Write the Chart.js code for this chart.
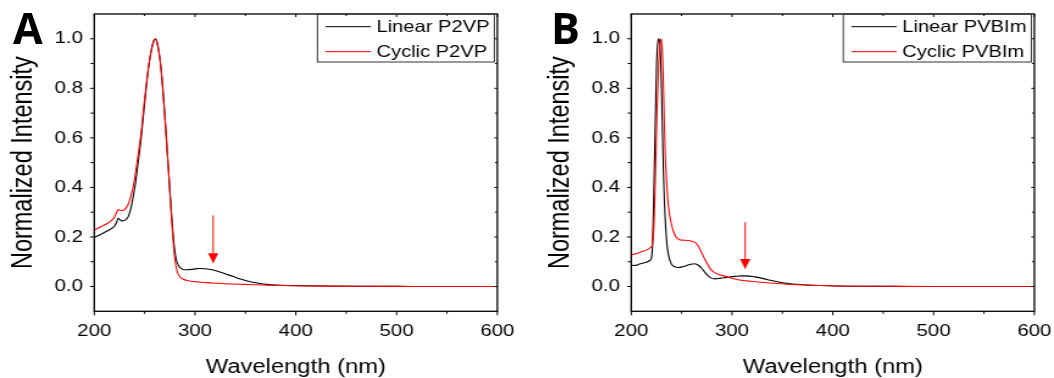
<!DOCTYPE html>
<html>
<head>
<meta charset="utf-8">
<script src="https://cdn.jsdelivr.net/npm/chart.js@4/dist/chart.umd.min.js"></script>
<style>
  html, body { margin: 0; padding: 0; background: #fff; }
  #wrap { position: relative; width: 1054px; height: 378px; overflow: hidden; }
  .holder { position: absolute; top: 0; width: 424px; height: 378px; transform: scaleX(1.2193); transform-origin: 0 0; }
  .tag { position: absolute; top: 0; font: bold 43px "Open Sans", sans-serif; line-height: 56px; color: #000; }
</style>
</head>
<body>
<div id="wrap">
  <div class="holder" style="left:0px"><canvas id="chartA" width="424" height="378"></canvas></div>
  <div class="holder" style="left:537px"><canvas id="chartB" width="424" height="378"></canvas></div>
  <div class="tag" style="left:13px">A</div>
  <div class="tag" style="left:551px">B</div>
</div>
<script>
// ---- data ----
var wlP2VP = [200, 205, 210, 215, 220, 222, 223.8, 225.5, 227.2, 230, 233.5, 236, 238.5, 241, 243.5, 246.5, 249, 251.5, 254, 257, 259, 260.5, 262, 264, 266, 268, 270, 272, 274, 276, 278, 280, 282, 284, 286, 289, 293, 298, 304, 310, 317, 324, 331, 338, 345, 352, 360, 368, 376, 385, 395, 410, 430, 460, 500, 550, 600];
var linearP2VP = [0.198, 0.208, 0.218, 0.229, 0.243, 0.258, 0.275, 0.27, 0.265, 0.267, 0.28, 0.31, 0.36, 0.42, 0.5, 0.6, 0.7, 0.8, 0.89, 0.96, 0.99, 1.0, 0.99, 0.95, 0.89, 0.8, 0.69, 0.57, 0.45, 0.33, 0.22, 0.14, 0.1, 0.082, 0.073, 0.068, 0.068, 0.07, 0.073, 0.072, 0.068, 0.06, 0.05, 0.04, 0.03, 0.022, 0.015, 0.01, 0.007, 0.005, 0.004, 0.003, 0.002, 0.001, 0.0005, 0, 0];
var cyclicP2VP = [0.228, 0.238, 0.248, 0.26, 0.28, 0.298, 0.311, 0.308, 0.306, 0.31, 0.33, 0.36, 0.4, 0.46, 0.53, 0.62, 0.72, 0.81, 0.89, 0.96, 0.99, 1.0, 0.99, 0.95, 0.89, 0.8, 0.69, 0.57, 0.45, 0.32, 0.2, 0.11, 0.065, 0.045, 0.035, 0.028, 0.023, 0.02, 0.018, 0.016, 0.014, 0.013, 0.011, 0.01, 0.009, 0.008, 0.007, 0.006, 0.005, 0.004, 0.003, 0.002, 0.0015, 0.001, 0.0005, 0, 0];

var wlLinearPVBIm = [200, 203, 206, 209, 212, 215, 218, 220, 221, 222, 223, 224, 225, 226, 227, 228, 229, 230, 231, 232, 233, 234, 235, 236, 238, 240, 243, 247, 251, 255, 259, 263, 267, 271, 275, 279, 283, 288, 295, 303, 310, 317, 324, 331, 338, 345, 352, 360, 370, 380, 395, 420, 460, 500, 600];
var linearPVBIm = [0.086, 0.085, 0.087, 0.092, 0.095, 0.098, 0.104, 0.115, 0.16, 0.3, 0.5, 0.7, 0.88, 0.97, 1.0, 0.99, 0.93, 0.8, 0.62, 0.45, 0.33, 0.25, 0.19, 0.15, 0.11, 0.09, 0.08, 0.077, 0.08, 0.085, 0.09, 0.092, 0.085, 0.068, 0.048, 0.035, 0.031, 0.033, 0.037, 0.041, 0.043, 0.042, 0.038, 0.032, 0.025, 0.019, 0.014, 0.01, 0.007, 0.005, 0.003, 0.001, 0.0005, 0, 0];

var wlCyclicPVBIm = [200, 205, 210, 215, 219, 221, 222.5, 224, 225.5, 227, 228.5, 229.5, 230.5, 231.5, 232.5, 233.5, 235, 236.5, 238, 240, 242.5, 245, 248, 252, 256, 260, 264, 267, 270, 273, 276, 279, 282, 286, 291, 297, 304, 311, 318, 326, 335, 345, 355, 365, 378, 390, 410, 450, 500, 600];
var cyclicPVBIm = [0.127, 0.133, 0.14, 0.147, 0.157, 0.17, 0.25, 0.45, 0.7, 0.88, 0.98, 1.0, 0.97, 0.88, 0.72, 0.56, 0.43, 0.34, 0.29, 0.25, 0.215, 0.197, 0.189, 0.187, 0.186, 0.183, 0.176, 0.16, 0.135, 0.11, 0.088, 0.068, 0.058, 0.05, 0.044, 0.037, 0.029, 0.024, 0.021, 0.018, 0.015, 0.012, 0.009, 0.007, 0.005, 0.004, 0.002, 0.001, 0, 0];

var xMajor = [200, 300, 400, 500, 600];
var xMinor = [250, 350, 450, 550];
var yMajor = [0, 0.2, 0.4, 0.6, 0.8, 1.0];
var yMinor = [0.1, 0.3, 0.5, 0.7, 0.9];

// arrows: [wavelength, top, head start, tip]
var arrowA = [318, 0.287, 0.134, 0.093];
var arrowB = [313, 0.26, 0.111, 0.07];

function pts(xs, ys) {
    return xs.map(function(v, i) { return {x: v, y: ys[i]}; });
}

var decor = {
    id: 'decor',
    afterDatasetsDraw: function(chart, args, opts) {
        var ctx = chart.ctx, a = chart.chartArea;
        var xs = chart.scales.x, ys = chart.scales.y;
        ctx.save();

        // arrow
        var ar = opts.arrow;
        var ax = xs.getPixelForValue(ar[0]);
        ctx.strokeStyle = '#ff0000';
        ctx.fillStyle = '#ff0000';
        ctx.lineWidth = 1;
        ctx.beginPath();
        ctx.moveTo(ax, ys.getPixelForValue(ar[1]));
        ctx.lineTo(ax, ys.getPixelForValue(ar[2]));
        ctx.stroke();
        ctx.beginPath();
        ctx.moveTo(ax - 4.2, ys.getPixelForValue(ar[2]));
        ctx.lineTo(ax + 4.2, ys.getPixelForValue(ar[2]));
        ctx.lineTo(ax, ys.getPixelForValue(ar[3]));
        ctx.closePath();
        ctx.fill();

        // frame
        ctx.strokeStyle = '#000';
        ctx.lineWidth = 1.3;
        ctx.strokeRect(a.left, a.top, a.right - a.left, a.bottom - a.top);
        ctx.lineWidth = 1;
        function tick(px, py, dx, dy) {
            ctx.beginPath();
            ctx.moveTo(px, py);
            ctx.lineTo(px + dx, py + dy);
            ctx.stroke();
        }
        xMajor.forEach(function(v) {
            var p = xs.getPixelForValue(v);
            tick(p, a.bottom, 0, 4);
            tick(p, a.top, 0, 3);
        });
        xMinor.forEach(function(v) {
            var p = xs.getPixelForValue(v);
            tick(p, a.bottom, 0, 2.5);
            tick(p, a.top, 0, 2);
        });
        yMajor.forEach(function(v) {
            var p = ys.getPixelForValue(v);
            tick(a.left, p, -3.5, 0);
            tick(a.right, p, -2.5, 0);
        });
        yMinor.forEach(function(v) {
            var p = ys.getPixelForValue(v);
            tick(a.left, p, -3, 0);
            tick(a.right, p, -2, 0);
        });

        // legend box
        var names = opts.names, colors = ['#000000', '#ff0000'];
        ctx.font = '16.5px "Liberation Sans", Arial, sans-serif';
        var tw = Math.max(ctx.measureText(names[0]).width, ctx.measureText(names[1]).width);
        var bw = 48.4 + tw + 4;
        var bx = a.right - 2.5 - bw, by = a.top;
        ctx.strokeStyle = '#333';
        ctx.lineWidth = 1;
        ctx.strokeRect(bx, by, bw, 48);
        ctx.textBaseline = 'middle';
        ctx.textAlign = 'left';
        for (var i = 0; i < 2; i++) {
            var ly = by + 12.7 + i * 25;
            ctx.strokeStyle = colors[i];
            ctx.beginPath();
            ctx.moveTo(bx + 6.6, ly);
            ctx.lineTo(bx + 43.8, ly);
            ctx.stroke();
            ctx.fillStyle = '#000';
            ctx.fillText(names[i], bx + 48.4, ly + 1);
        }
        ctx.restore();
    }
};

function makeChart(id, sets, names, arrow) {
    var ctx = document.getElementById(id).getContext('2d');
    return new Chart(ctx, {
        type: 'line',
        data: {
            datasets: [{
                label: names[0],
                data: sets[0],
                borderColor: '#000000',
                borderWidth: 1.1,
                pointRadius: 0,
                cubicInterpolationMode: 'monotone',
                order: 1
            }, {
                label: names[1],
                data: sets[1],
                borderColor: '#ff0000',
                borderWidth: 1.1,
                pointRadius: 0,
                cubicInterpolationMode: 'monotone',
                order: 0
            }]
        },
        options: {
            responsive: false,
            devicePixelRatio: 1,
            animation: false,
            layout: { padding: { left: 0, right: 16.1, top: 14, bottom: 0 } },
            plugins: {
                legend: { display: false },
                tooltip: { enabled: false },
                decor: { names: names, arrow: arrow }
            },
            scales: {
                x: {
                    type: 'linear',
                    min: 200,
                    max: 600,
                    grid: { display: false, drawTicks: false },
                    border: { display: false },
                    afterBuildTicks: function(s) { s.ticks = xMajor.map(function(v) { return {value: v}; }); },
                    afterFit: function(s) { s.height = 66.7; s.paddingLeft = 0; s.paddingRight = 0; },
                    ticks: {
                        color: '#000',
                        padding: 10,
                        maxRotation: 0,
                        font: { family: '"Liberation Sans", Arial, sans-serif', size: 16.8 }
                    },
                    title: {
                        display: true,
                        text: 'Wavelength (nm)',
                        color: '#000',
                        padding: { top: 0, bottom: -1.5 },
                        font: { family: '"Liberation Sans", Arial, sans-serif', size: 19.5 }
                    }
                },
                y: {
                    min: -0.1,
                    max: 1.1,
                    grid: { display: false, drawTicks: false },
                    border: { display: false },
                    afterBuildTicks: function(s) { s.ticks = yMajor.map(function(v) { return {value: v}; }); },
                    afterFit: function(s) { s.width = 77.3; s.paddingTop = 0; s.paddingBottom = 0; },
                    ticks: {
                        color: '#000',
                        padding: 9.3,
                        font: { family: '"Liberation Sans", Arial, sans-serif', size: 16.8 },
                        callback: function(v) { return Number(v).toFixed(1); }
                    },
                    title: {
                        display: true,
                        text: 'Normalized Intensity',
                        color: '#000',
                        padding: { top: 5.5, bottom: 0 },
                        font: { family: '"Liberation Sans", Arial, sans-serif', size: 23.5 }
                    }
                }
            }
        },
        plugins: [decor]
    });
}

makeChart('chartA', [pts(wlP2VP, linearP2VP), pts(wlP2VP, cyclicP2VP)], ['Linear P2VP', 'Cyclic P2VP'], arrowA);
makeChart('chartB', [pts(wlLinearPVBIm, linearPVBIm), pts(wlCyclicPVBIm, cyclicPVBIm)], ['Linear PVBIm', 'Cyclic PVBIm'], arrowB);
</script>
</body>
</html>
